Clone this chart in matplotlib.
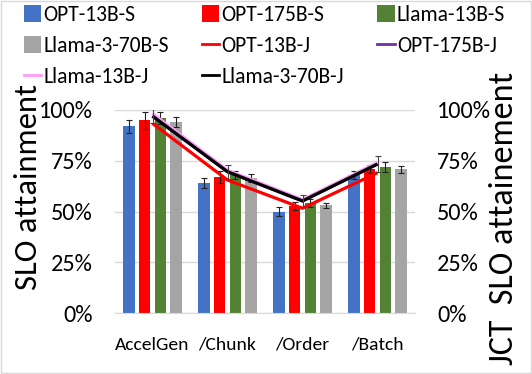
import matplotlib
matplotlib.use("Agg")
import matplotlib.pyplot as plt
import numpy as np
from matplotlib.patches import Rectangle, Patch
from matplotlib.lines import Line2D

categories = ["AccelGen", "/Chunk", "/Order", "/Batch"]

bar_names = ["OPT-13B-S", "OPT-175B-S", "Llama-13B-S", "Llama-3-70B-S"]
bar_colors = ["#4472C4", "#FF0000", "#548235", "#A5A5A5"]
bar_values = [
    [92, 64, 50, 68],
    [95, 67, 52.5, 71],
    [96, 68, 54, 72],
    [94, 66.5, 53, 70.8],
]
bar_errors = [
    [3.3, 2.5, 2, 2],
    [4.2, 3, 2, 2],
    [3, 2, 2, 2.5],
    [2.5, 2, 1.2, 1.8],
]

line_names = ["OPT-13B-J", "OPT-175B-J", "Llama-13B-J", "Llama-3-70B-J"]
line_colors = ["#FF0000", "#7030A0", "#FF99FF", "#000000"]
line_values = [
    [93.4, 65.5, 51.6, 69.1],
    [97.0, 69.6, 55.2, 73.4],
    [98.2, 70.3, 55.8, 74.1],
    [97.0, 69.6, 55.2, 73.4],
]
line_errors = [3.5, 3.5, 3, 4]

tick_labels = ["0%", "25%", "50%", "75%", "100%"]
tick_values = [0, 25, 50, 75, 100]

FONT = ["Carlito", "DejaVu Sans"]

fig = plt.figure(figsize=(5.32, 3.74), dpi=100)
ax = fig.add_axes([115/532, 1 - 313/374, 300/532, 203/374])

x = np.arange(len(categories))
step = 0.208
width = 0.15
for i, (vals, errs) in enumerate(zip(bar_values, bar_errors)):
    ax.bar(x + (i - 1.5) * step, vals, width, color=bar_colors[i], label=bar_names[i],
           yerr=errs, error_kw=dict(ecolor="#222222", elinewidth=0.8, capsize=2.2, capthick=0.8),
           zorder=2)

for i, vals in enumerate(line_values):
    ax.plot(x, vals, color=line_colors[i], lw=2.3, label=line_names[i], zorder=3 + i,
            solid_capstyle="butt")
ax.errorbar(x, line_values[3], yerr=line_errors, fmt="none", ecolor="#444444",
            elinewidth=0.8, capsize=2.2, capthick=0.8, zorder=8)

ax.set_xlim(-0.5, 3.5)
ax.set_ylim(0, 100)
ax.set_yticks(tick_values)
ax.set_yticklabels(tick_labels)
ax.set_xticks(x)
ax.set_xticklabels(categories, fontfamily=FONT, fontsize=14)
for lab in ax.get_yticklabels():
    lab.set_fontfamily(FONT)
    lab.set_fontsize(17.5)
ax.tick_params(axis="x", length=0, pad=17)
ax.tick_params(axis="y", length=0, pad=16)
ax.grid(axis="y", color="#D9D9D9", lw=1, zorder=0)
ax.set_axisbelow(True)
for s in ["top", "right", "left"]:
    ax.spines[s].set_visible(False)
ax.spines["bottom"].set_color("#D9D9D9")

ax2 = ax.twinx()
ax2.set_ylim(0, 100)
ax2.set_yticks(tick_values)
ax2.set_yticklabels(tick_labels, fontfamily=FONT, fontsize=17.5)
ax2.tick_params(axis="y", length=0, pad=16)
for s in ax2.spines.values():
    s.set_visible(False)

fig.text(28/532, 1 - 187/374, "SLO attainment", rotation=90, ha="center", va="center",
         fontfamily=FONT, fontsize=23.5)
fig.text(504/532, 1 - 218/374, "JCT  SLO attainement", rotation=90, ha="center", va="center",
         fontfamily=FONT, fontsize=24.5)

# legend (column-major ordering to produce row-major reading)
bar_handles = [Patch(facecolor=c) for c in bar_colors]
line_handles = [Line2D([], [], color=c, lw=2) for c in line_colors]
handles_all = bar_handles + line_handles
labels_all = bar_names + line_names
order = [0, 3, 6, 1, 4, 7, 2, 5]
leg = fig.legend([handles_all[k] for k in order], [labels_all[k] for k in order],
                 ncol=3, loc="upper left", bbox_to_anchor=(24/532, 1 - 5/374),
                 frameon=False, prop={"family": FONT, "size": 15.5},
                 handlelength=0.8, handleheight=0.8, handletextpad=0.1,
                 columnspacing=1.55, labelspacing=0.5, borderpad=0, borderaxespad=0)

fig.patches.append(Rectangle((0.002, 0.002), 0.996, 0.996, transform=fig.transFigure,
                             fill=False, edgecolor="#D9D9D9", lw=1))

fig.savefig("out.png", dpi=100)
